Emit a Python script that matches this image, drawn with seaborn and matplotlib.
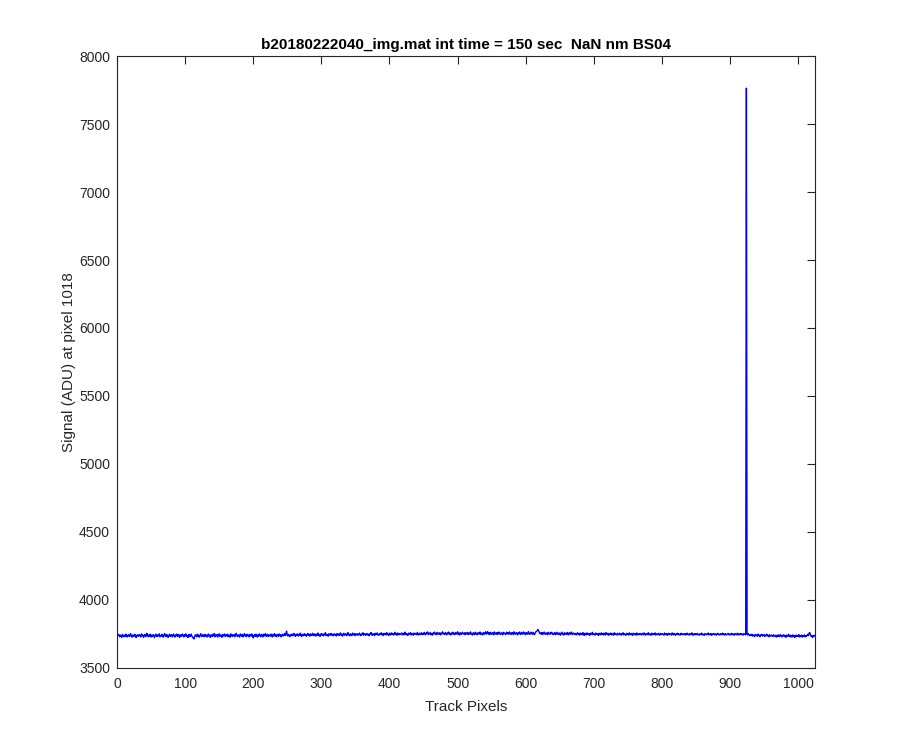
import numpy as np
import pandas as pd
import matplotlib
matplotlib.use("Agg")
import matplotlib.pyplot as plt
import seaborn as sns

title = "b20180222040_img.mat int time = 150 sec  NaN nm BS04"
xlabel = "Track Pixels"
ylabel = "Signal (ADU) at pixel 1018"
xticks = [0, 100, 200, 300, 400, 500, 600, 700, 800, 900, 1000]
yticks = [3500, 4000, 4500, 5000, 5500, 6000, 6500, 7000, 7500, 8000]

signal = [
3748,3735,3741,3726,3739,3730,3722,3744,3733,3727,3738,3729,3746,3731,3724,3737,3742,3728,3735,3749,3730,3723,3740,3734,3727,3745,3736,3721,3733,3741,3729,3738,
3743,3730,3725,3747,3734,3739,3722,3736,3744,3728,3733,3751,3737,3726,3740,3731,3745,3724,3738,3729,3742,3735,3720,3737,3746,3731,3727,3741,3733,3748,3726,3736,
3730,3744,3735,3723,3739,3750,3732,3727,3743,3736,3721,3734,3745,3729,3738,3742,3725,3736,3747,3731,3724,3740,3733,3746,3728,3737,3743,3722,3735,3741,3730,3746,
3737,3725,3741,3732,3748,3729,3736,3720,3739,3744,3727,3733,3746,3730,3724,3715,3710,3728,3741,3735,3726,3745,3731,3739,3723,3737,3749,3732,3728,3742,3736,3727,
3744,3731,3739,3724,3735,3747,3730,3738,3721,3741,3734,3728,3745,3733,3750,3726,3739,3732,3743,3725,3736,3748,3729,3740,3735,3722,3744,3731,3737,3746,3728,3739,
3733,3745,3727,3740,3736,3723,3748,3731,3742,3729,3737,3744,3726,3739,3752,3734,3728,3741,3735,3724,3747,3738,3730,3743,3726,3736,3749,3732,3740,3727,3745,3734,
3739,3726,3744,3735,3730,3747,3737,3718,3733,3742,3729,3746,3736,3724,3741,3731,3748,3734,3727,3743,3738,3725,3745,3732,3740,3750,3729,3737,3744,3728,3741,3735,
3730,3746,3738,3725,3742,3733,3749,3731,3740,3727,3744,3736,3729,3747,3734,3741,3726,3739,3745,3732,3737,3750,3735,3752,3768,3738,3731,3744,3736,3727,3742,3735,
3746,3733,3740,3751,3737,3729,3744,3739,3748,3732,3743,3736,3753,3738,3727,3745,3741,3734,3749,3737,3744,3730,3742,3750,3736,3745,3731,3747,3739,3735,3752,3740,
3734,3748,3742,3731,3746,3738,3754,3736,3743,3729,3741,3750,3737,3745,3733,3747,3740,3756,3735,3744,3738,3730,3749,3742,3736,3751,3739,3746,3733,3744,3748,3737,
3745,3732,3750,3740,3747,3735,3743,3755,3738,3746,3731,3742,3752,3737,3744,3749,3734,3741,3757,3739,3745,3733,3748,3740,3736,3753,3743,3738,3750,3735,3746,3741,
3749,3737,3744,3753,3740,3734,3747,3742,3756,3738,3745,3750,3736,3743,3751,3739,3746,3733,3748,3744,3758,3740,3737,3749,3745,3735,3752,3741,3747,3755,3739,3744,
3738,3750,3743,3756,3741,3747,3735,3752,3744,3749,3739,3757,3742,3746,3736,3753,3748,3740,3755,3744,3750,3738,3747,3759,3743,3749,3737,3754,3745,3741,3751,3746,
3742,3755,3747,3739,3752,3744,3760,3741,3749,3745,3736,3753,3748,3743,3757,3740,3750,3746,3738,3754,3744,3751,3747,3741,3758,3745,3739,3752,3748,3743,3756,3742,
3751,3744,3758,3747,3740,3755,3749,3762,3743,3752,3746,3757,3741,3750,3738,3754,3748,3761,3745,3751,3742,3759,3747,3753,3744,3756,3740,3752,3749,3763,3746,3751,
3743,3757,3750,3741,3755,3748,3761,3744,3752,3739,3754,3747,3760,3745,3751,3742,3758,3749,3746,3763,3744,3753,3740,3756,3748,3744,3759,3751,3746,3755,3742,3757,
3749,3745,3758,3743,3753,3747,3762,3744,3751,3739,3756,3748,3742,3760,3746,3752,3741,3757,3750,3745,3761,3743,3754,3748,3740,3758,3751,3745,3763,3747,3753,3764,
3746,3755,3742,3759,3749,3744,3757,3751,3740,3762,3747,3753,3745,3758,3743,3750,3761,3748,3744,3756,3749,3741,3759,3746,3754,3750,3743,3760,3748,3755,3745,3762,
3747,3753,3744,3758,3751,3742,3763,3749,3745,3757,3752,3740,3756,3748,3761,3746,3743,3759,3750,3745,3762,3748,3754,3741,3757,3750,3746,3764,3749,3743,3755,3760,
3751,3744,3758,3748,3742,3755,3763,3766,3772,3780,3771,3760,3749,3754,3745,3758,3743,3752,3761,3748,3744,3756,3750,3741,3759,3747,3753,3745,3760,3749,3755,3743,
3752,3745,3757,3741,3750,3759,3746,3742,3755,3749,3738,3753,3760,3744,3748,3739,3756,3747,3751,3743,3758,3746,3740,3757,3750,3744,3761,3748,3742,3754,3749,3745,
3751,3739,3747,3756,3743,3750,3738,3754,3745,3749,3741,3757,3744,3736,3752,3747,3740,3755,3746,3742,3750,3737,3753,3748,3744,3759,3741,3749,3745,3738,3754,3747,
3743,3750,3736,3752,3746,3741,3755,3744,3749,3739,3753,3745,3740,3757,3747,3742,3751,3737,3748,3744,3754,3740,3749,3746,3738,3756,3743,3750,3745,3739,3752,3747,
3741,3753,3746,3738,3750,3744,3756,3740,3748,3743,3737,3752,3745,3749,3739,3755,3744,3741,3751,3746,3736,3753,3747,3742,3750,3738,3754,3745,3740,3749,3743,3751,
3745,3739,3752,3747,3741,3755,3744,3738,3750,3746,3742,3756,3740,3748,3744,3737,3753,3746,3741,3750,3743,3755,3739,3748,3745,3741,3752,3744,3738,3751,3747,3742,
3749,3743,3738,3754,3745,3741,3750,3737,3747,3752,3742,3748,3744,3739,3755,3746,3740,3751,3743,3737,3749,3745,3753,3740,3747,3742,3738,3752,3745,3749,3741,3746,
3743,3750,3738,3747,3753,3742,3745,3739,3751,3746,3741,3755,3744,3737,3748,3743,3750,3740,3746,3752,3741,3744,3738,3749,3745,3753,3740,3747,3742,3736,3750,3745,
3741,3748,3744,3754,3739,3746,3742,3750,3737,3747,3743,3751,3740,3745,3749,3738,3746,3752,3742,3744,3739,3750,3745,3741,3753,3743,3747,3738,3749,3744,3740,3746,
3751,3742,3747,3739,3745,3752,3741,3748,3743,3737,3750,3744,3746,3740,3753,3745,3739,3748,3743,3751,3742,3746,3738,3749,3744,3747,3741,7765,3746,3739,3750,3742,
3733,3742,3736,3745,3731,3740,3737,3728,3743,3735,3739,3730,3746,3734,3738,3727,3741,3736,3744,3731,3737,3742,3729,3739,3734,3745,3732,3738,3726,3741,3736,3730,
3739,3733,3727,3742,3735,3729,3736,3724,3738,3731,3740,3727,3734,3743,3730,3725,3737,3732,3741,3728,3735,3722,3739,3733,3729,3744,3731,3726,3737,3734,3723,3740,
3729,3736,3721,3733,3739,3727,3735,3730,3742,3725,3734,3728,3738,3723,3736,3731,3740,3726,3733,3729,3737,3744,3735,3752,3758,3741,3730,3736,3722,3733,3727,3738,
]
pixels = list(range(1, len(signal) + 1))

sns.set_style("white")
plt.rcParams['font.family'] = ['Liberation Sans', 'DejaVu Sans']

df = pd.DataFrame({"pixel": pixels, "signal": signal})

fig = plt.figure(figsize=(9, 7.5), dpi=100)
ax = fig.add_axes([0.13, 0.11, 0.775, 0.815])
sns.lineplot(data=df, x="pixel", y="signal", ax=ax, color=(0, 0, 1), linewidth=1.0)

ax.set_xlim(0, 1024)
ax.set_ylim(3500, 8000)
ax.set_xticks(xticks)
ax.set_yticks(yticks)
ax.set_xticklabels([str(t) for t in xticks])
ax.set_yticklabels([str(t) for t in yticks])
ax.tick_params(direction="in", top=True, right=True, length=6, width=0.8,
               labelsize=10, colors="#262626")
ax.tick_params(axis="x", pad=7)
ax.tick_params(axis="y", pad=5)
for s in ax.spines.values():
    s.set_visible(True)
    s.set_color("#262626")
    s.set_linewidth(0.8)
ax.set_xlabel(xlabel, fontsize=11, color="#262626", labelpad=6)
ax.set_ylabel(ylabel, fontsize=11, color="#262626", labelpad=2)
ax.set_title(title, fontsize=11, fontweight="bold", color="black", pad=5)

fig.savefig("out.png", dpi=100)
